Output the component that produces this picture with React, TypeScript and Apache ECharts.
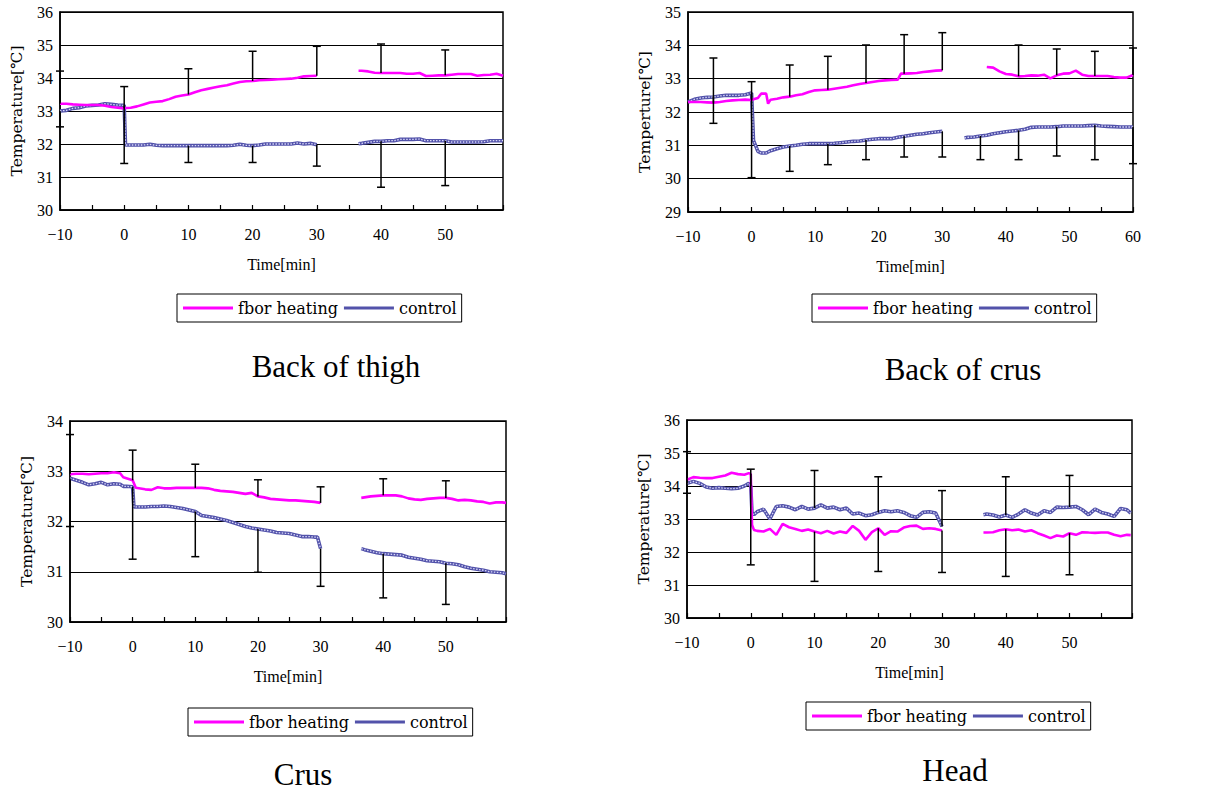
import React, { useEffect, useRef } from "react";
import * as echarts from "echarts";

// ---------- Back of thigh ----------
const thighTime = [-10, -9, -8, -7, -6, -5, -4, -3, -2, -1, 0, 0.2,
  1, 2, 3, 4, 5, 6, 7, 8, 9, 10, 11, 12, 13, 14, 15, 16, 17, 18, 19, 20,
  21, 22, 23, 24, 25, 26, 27, 28, 29, 30, 33, 36.5,
  37, 38, 39, 40, 41, 42, 43, 44, 45, 46, 47, 48, 49, 50, 51, 52, 53, 54, 55, 56, 57, 58, 59];
const thighHeat = [33.22, 33.22, 33.2, 33.19, 33.18, 33.18, 33.18, 33.16, 33.12, 33.1, 33.08, 33.09,
  33.1, 33.14, 33.2, 33.26, 33.28, 33.3, 33.36, 33.43, 33.47, 33.5,
  33.57, 33.63, 33.67, 33.71, 33.75, 33.78, 33.83, 33.88, 33.9, 33.91,
  33.93, 33.94, 33.95, 33.96, 33.97, 33.98, 34.01, 34.05, 34.06, 34.07, null, 34.22,
  34.22, 34.2, 34.16, 34.15, 34.15, 34.15, 34.15, 34.13, 34.13, 34.15, 34.06, 34.07, 34.08, 34.08,
  34.1, 34.12, 34.12, 34.12, 34.07, 34.09, 34.1, 34.13, 34.07];
const thighCtrl = [33.0, 33.02, 33.08, 33.1, 33.15, 33.17, 33.18, 33.22, 33.2, 33.18, 33.17, 31.97,
  31.97, 31.97, 31.97, 31.99, 31.96, 31.95, 31.95, 31.95, 31.95, 31.95,
  31.95, 31.95, 31.95, 31.95, 31.95, 31.95, 31.96, 31.99, 31.96, 31.95,
  31.97, 32.0, 32.0, 32.0, 32.0, 32.0, 32.03, 32.0, 32.02, 31.98, null, 32.01,
  32.02, 32.05, 32.08, 32.08, 32.1, 32.1, 32.14, 32.14, 32.14, 32.15, 32.1, 32.1, 32.1, 32.1,
  32.06, 32.06, 32.06, 32.06, 32.06, 32.07, 32.1, 32.1, 32.1];
const thighErrX = [-10, 0, 10, 20, 30, 40, 50];
const thighHeatTip = [34.21, 33.74, 34.28, 34.81, 34.96, 35.03, 34.85];
const thighCtrlTip = [32.52, 31.41, 31.44, 31.44, 31.33, 30.69, 30.74];

// ---------- Back of crus ----------
const backCrusTime = [-10, -9, -8, -7, -6, -5, -4, -3, -2, -1, 0, 0.3, 1, 1.5, 2.3, 2.6,
  3, 4, 5, 6, 7, 8, 9, 10, 11, 12, 13, 14, 15, 16, 17, 18, 19, 20, 21, 22, 23, 23.5,
  24, 25, 26, 27, 28, 29, 30, 32, 33.5,
  34, 35, 36, 37, 38, 39, 40, 41, 42, 43, 44, 45, 46, 47, 48, 49, 50, 51, 52, 53, 54, 55, 56, 57, 58, 59, 60];
const backCrusHeat = [32.3, 32.3, 32.3, 32.29, 32.28, 32.3, 32.33, 32.35, 32.36, 32.37,
  32.36, 32.38, 32.42, 32.55, 32.55, 32.25,
  32.37, 32.4, 32.44, 32.46, 32.5, 32.53, 32.6, 32.65, 32.66, 32.67, 32.7, 32.73, 32.76, 32.8, 32.84,
  32.87, 32.9, 32.93, 32.95, 32.96, 32.97, 33.15,
  33.15, 33.16, 33.17, 33.2, 33.22, 33.24, 33.25, null, null,
  null, null, null, 33.35, 33.33, 33.22, 33.14, 33.12, 33.07, 33.08, 33.1, 33.09, 33.12, 33.01,
  33.1, 33.15, 33.16, 33.24, 33.12, 33.08, 33.08, 33.08, 33.08, 33.05, 33.03, 33.03, 33.11];
const backCrusCtrl = [32.3, 32.38, 32.42, 32.44, 32.45, 32.48, 32.5, 32.5, 32.5, 32.52,
  32.57, 31.15, 30.82, 30.77, 30.77, 30.8,
  30.84, 30.9, 30.95, 30.98, 31.0, 31.03, 31.05, 31.05, 31.05, 31.05, 31.06, 31.08, 31.1, 31.12, 31.13,
  31.16, 31.18, 31.2, 31.2, 31.2, 31.24, 31.26,
  31.27, 31.3, 31.33, 31.35, 31.38, 31.4, 31.42, null, 31.22,
  31.24, 31.25, 31.28, 31.3, 31.35, 31.38, 31.41, 31.43, 31.45, 31.48, 31.54, 31.55, 31.55, 31.55,
  31.56, 31.58, 31.58, 31.58, 31.58, 31.59, 31.6, 31.58, 31.57, 31.56, 31.55, 31.55, 31.55];
const backCrusErrX = [-6, 0, 6, 12, 18, 24, 30, 36, 42, 48, 54, 60];
const backCrusHeatTip = [33.62, 32.91, 33.41, 33.67, 34.01, 34.32, 34.38, null, 34.01, 33.89, 33.82, 33.92];
const backCrusCtrlTip = [31.66, 30.03, 30.22, 30.42, 30.57, 30.65, 30.65, 30.57, 30.57, 30.68, 30.57, 30.45];

// ---------- Crus ----------
const crusTime = [-10, -9, -8, -7, -6, -5, -4, -3, -2, -1.5, -1, 0, 0.2, 0.5,
  1, 2, 3, 4, 5, 6, 7, 8, 9, 10, 11, 12, 13, 14, 15, 16, 17, 18, 19, 20,
  21, 22, 23, 24, 25, 26, 27, 28, 29, 29.5, 30, 33, 36.5,
  37, 38, 39, 40, 41, 42, 43, 44, 45, 46, 47, 48, 49, 50, 51, 52, 53, 54, 55, 56, 57, 58, 59, 59.6];
const crusHeat = [32.94, 32.95, 32.95, 32.94, 32.95, 32.96, 32.96, 32.98, 32.96, 32.88, 32.86,
  32.82, 32.76, 32.67,
  32.66, 32.64, 32.63, 32.68, 32.66, 32.66, 32.67, 32.67, 32.67, 32.67,
  32.67, 32.66, 32.63, 32.61, 32.6, 32.59, 32.57, 32.55, 32.57, 32.5,
  32.48, 32.45, 32.44, 32.43, 32.42, 32.42, 32.41, 32.4, 32.39, 32.38, 32.37, null, 32.47,
  32.48, 32.5, 32.51, 32.52, 32.52, 32.52, 32.5, 32.46, 32.44, 32.43,
  32.45, 32.46, 32.47, 32.47, 32.45, 32.42, 32.43, 32.42, 32.4, 32.39, 32.36, 32.38, 32.38, 32.37];
const crusCtrl = [32.86, 32.82, 32.78, 32.73, 32.75, 32.78, 32.73, 32.75, 32.74, 32.7, 32.7,
  32.69, 32.29, 32.29,
  32.29, 32.29, 32.3, 32.3, 32.31, 32.3, 32.28, 32.26, 32.23, 32.2,
  32.12, 32.1, 32.08, 32.05, 32.02, 31.98, 31.94, 31.9, 31.87, 31.85,
  31.83, 31.81, 31.78, 31.77, 31.76, 31.73, 31.7, 31.7, 31.69, 31.69, 31.46, null, 31.46,
  31.44, 31.41, 31.38, 31.36, 31.35, 31.34, 31.33, 31.29, 31.27, 31.25,
  31.22, 31.21, 31.2, 31.17, 31.16, 31.14, 31.1, 31.07, 31.05, 31.03, 31.0, 30.99, 30.98, 30.96];
const crusErrX = [-10, 0, 10, 20, 30, 40, 50];
const crusHeatTip = [33.73, 33.42, 33.14, 32.83, 32.69, 32.85, 32.81];
const crusCtrlTip = [31.9, 31.25, 31.3, 30.99, 30.71, 30.48, 30.35];

// ---------- Head ----------
const headTime = [-10, -9, -8, -7, -6, -5, -4, -3, -2, -1, -0.3, 0, 0.2, 0.5,
  1, 2, 3, 4, 5, 6, 7, 8, 9, 10, 11, 12, 13, 14, 15, 16, 17, 18, 19, 20,
  21, 22, 23, 24, 25, 26, 27, 28, 29, 30, 33, 36.5,
  37, 38, 39, 40, 41, 42, 43, 44, 45, 46, 47, 48, 49, 50, 51, 52, 53, 54, 55, 56, 57, 58, 59, 59.6];
const headHeat = [34.19, 34.27, 34.25, 34.24, 34.24, 34.28, 34.32, 34.4, 34.36, 34.34,
  34.39, 34.36, 32.82, 32.67,
  32.64, 32.62, 32.7, 32.52, 32.85, 32.75, 32.7, 32.64, 32.68, 32.62,
  32.57, 32.64, 32.56, 32.62, 32.58, 32.79, 32.64, 32.37, 32.6, 32.72,
  32.52, 32.63, 32.62, 32.74, 32.79, 32.8, 32.7, 32.72, 32.7, 32.65, null, 32.59,
  32.59, 32.6, 32.66, 32.69, 32.66, 32.68, 32.62, 32.66, 32.57, 32.5,
  32.42, 32.5, 32.47, 32.57, 32.52, 32.6, 32.59, 32.58, 32.59, 32.59, 32.52, 32.48, 32.52, 32.51];
const headCtrl = [34.08, 34.14, 34.08, 33.97, 33.93, 33.95, 33.93, 33.92, 33.93, 34.0,
  34.08, 34.0, 33.18, 33.13,
  33.22, 33.3, 33.0, 33.38, 33.4, 33.36, 33.28, 33.38, 33.3, 33.33,
  33.43, 33.33, 33.36, 33.28, 33.33, 33.15, 33.18, 33.1, 33.13, 33.2,
  33.25, 33.22, 33.25, 33.2, 33.1, 33.05, 33.2, 33.22, 33.18, 32.77, null, 33.13,
  33.15, 33.12, 33.06, 33.12, 33.05, 33.15, 33.28, 33.18, 33.12, 33.25,
  33.2, 33.36, 33.35, 33.36, 33.38, 33.28, 33.13, 33.3, 33.2, 33.15, 33.08, 33.32, 33.28, 33.18];
const headErrX = [-10, 0, 10, 20, 30, 40, 50];
const headHeatTip = [33.78, 31.61, 31.11, 31.41, 31.38, 31.26, 31.31];
const headCtrlTip = [35.04, 34.51, 34.47, 34.28, 33.86, 34.28, 34.32];

const legendNames = ["fbor heating", "control"];
const FONT = "Liberation Serif";
const WIDE_SERIF = "DejaVu Serif";

const panels = [
  { time: thighTime, heat: thighHeat, ctrl: thighCtrl, errX: thighErrX, heatTip: thighHeatTip, ctrlTip: thighCtrlTip,
    yMin: 30, yMax: 36, xMax: 59, yName: "Temperature[\u2103]", title: "Back of thigh",
    grid: { left: 60, top: 12, width: 443, height: 198 }, legend: { left: 177, top: 294 }, tx: 336, ty: 366 },
  { time: backCrusTime, heat: backCrusHeat, ctrl: backCrusCtrl, errX: backCrusErrX, heatTip: backCrusHeatTip, ctrlTip: backCrusCtrlTip,
    yMin: 29, yMax: 35, xMax: 60, yName: "Temperture[\u2103]", title: "Back of crus",
    grid: { left: 688, top: 12, width: 445, height: 200 }, legend: { left: 812, top: 294 }, tx: 963, ty: 369 },
  { time: crusTime, heat: crusHeat, ctrl: crusCtrl, errX: crusErrX, heatTip: crusHeatTip, ctrlTip: crusCtrlTip,
    yMin: 30, yMax: 34, xMax: 59.6, yName: "Temperature[\u2103]", title: "Crus",
    grid: { left: 70, top: 421, width: 436, height: 201 }, legend: { left: 188, top: 708 }, tx: 303, ty: 774 },
  { time: headTime, heat: headHeat, ctrl: headCtrl, errX: headErrX, heatTip: headHeatTip, ctrlTip: headCtrlTip,
    yMin: 30, yMax: 36, xMax: 59.8, yName: "Temperature[\u2103]", title: "Head",
    grid: { left: 687, top: 420, width: 445, height: 198 }, legend: { left: 806, top: 702 }, tx: 955, ty: 770 },
];

function pairs(t: number[], v: (number | null)[]) {
  return t.map((x, i) => [x, v[i] == null ? "-" : v[i]]);
}
function valueAt(t: number[], v: (number | null)[], x: number) {
  let best = -1;
  let bd = Infinity;
  t.forEach((tt, i) => {
    const d = Math.abs(tt - x);
    if (d < bd) { bd = d; best = i; }
  });
  return best >= 0 ? v[best] : null;
}

function buildOption() {
  const grid: any[] = [];
  const xAxis: any[] = [];
  const yAxis: any[] = [];
  const series: any[] = [];
  const legend: any[] = [];
  const graphic: any[] = [];
  panels.forEach((p, i) => {
    grid.push({ ...p.grid, show: true, borderColor: "#000", borderWidth: 1.5, backgroundColor: "#fff" });
    xAxis.push({
      type: "value", gridIndex: i, min: -10, max: p.xMax, interval: 5,
      name: "Time[min]", nameLocation: "middle", nameGap: 46,
      nameTextStyle: { fontFamily: FONT, fontSize: 16, color: "#000" },
      axisLine: { show: true, onZero: false, lineStyle: { color: "#000", width: 1.5 } },
      axisTick: { show: true, inside: true, length: 5, lineStyle: { color: "#000", width: 1.2 } },
      axisLabel: {
        fontFamily: FONT, fontSize: 16, color: "#000", margin: 16,
        formatter: (v: number) => (Math.abs(v % 10) < 1e-9 ? (v < 0 ? "\u2212" + Math.abs(v) : String(v)) : ""),
      },
      splitLine: { show: false },
    });
    yAxis.push({
      type: "value", gridIndex: i, min: p.yMin, max: p.yMax, interval: 1,
      name: p.yName, nameLocation: "middle", nameGap: 35, nameRotate: 90,
      nameTextStyle: { fontFamily: WIDE_SERIF, fontSize: 15.5, color: "#000" },
      axisLine: { show: true, onZero: false, lineStyle: { color: "#000", width: 1.5 } },
      axisTick: { show: false },
      axisLabel: { fontFamily: FONT, fontSize: 16, color: "#000", margin: 7 },
      splitLine: { show: true, lineStyle: { color: "#000", width: 1 } },
    });
    series.push({
      type: "line", name: legendNames[1], xAxisIndex: i, yAxisIndex: i,
      data: pairs(p.time, p.ctrl), symbol: "none", showSymbol: false, connectNulls: false,
      lineStyle: { color: "#5252aa", width: 3.6 }, itemStyle: { color: "#5252aa" }, z: 3,
    });
    series.push({
      type: "line", name: "control-texture", xAxisIndex: i, yAxisIndex: i,
      data: pairs(p.time, p.ctrl), symbol: "none", showSymbol: false, connectNulls: false,
      lineStyle: { color: "#d8d8f8", width: 1.3, type: [1.5, 1.5] }, z: 4, silent: true,
    });
    series.push({
      type: "line", name: legendNames[0], xAxisIndex: i, yAxisIndex: i,
      data: pairs(p.time, p.heat), symbol: "none", showSymbol: false, connectNulls: false,
      lineStyle: { color: "#ff00ff", width: 2.6 }, itemStyle: { color: "#ff00ff" }, z: 5,
    });
    const errData: any[] = [];
    p.errX.forEach((x, k) => {
      const h = valueAt(p.time, p.heat, x);
      if (h != null && p.heatTip[k] != null) errData.push([x, h, p.heatTip[k]]);
      const c = valueAt(p.time, p.ctrl, x);
      if (c != null && p.ctrlTip[k] != null) errData.push([x, c, p.ctrlTip[k]]);
    });
    series.push({
      type: "custom", name: "err" + i, xAxisIndex: i, yAxisIndex: i, data: errData, clip: false, z: 6, silent: true,
      encode: { x: 0, y: [1, 2] },
      renderItem: (params: any, api: any) => {
        const x = api.value(0);
        const a = api.coord([x, api.value(1)]);
        const b = api.coord([x, api.value(2)]);
        return {
          type: "group",
          children: [
            { type: "line", shape: { x1: a[0], y1: a[1], x2: b[0], y2: b[1] }, style: { stroke: "#000", lineWidth: 1.5 } },
            { type: "line", shape: { x1: b[0] - 4, y1: b[1], x2: b[0] + 4, y2: b[1] }, style: { stroke: "#000", lineWidth: 1.5 } },
          ],
        };
      },
    });
    legend.push({
      left: p.legend.left, top: p.legend.top, orient: "horizontal", selectedMode: false,
      borderColor: "#000", borderWidth: 1, padding: [4, 5, 4, 6], itemGap: 6, itemWidth: 50, itemHeight: 3,
      icon: "rect",
      textStyle: { fontFamily: WIDE_SERIF, fontSize: 16, color: "#000", lineHeight: 20 },
      data: legendNames,
    });
    graphic.push({
      type: "text", x: p.tx, y: p.ty,
      style: { text: p.title, fontFamily: FONT, fontSize: 31, fill: "#000", align: "center", verticalAlign: "middle", textAlign: "center", textVerticalAlign: "middle" },
    });
  });
  return { animation: false, backgroundColor: "#fff", grid, xAxis, yAxis, series, legend, graphic };
}

export default function App() {
  const ref = useRef<HTMLDivElement>(null);
  useEffect(() => {
    if (!ref.current) return;
    const chart = echarts.init(ref.current, undefined, { renderer: "svg" });
    chart.setOption(buildOption() as any);
    return () => chart.dispose();
  }, []);
  return <div ref={ref} style={{ position: "absolute", left: 0, top: 0, width: 1219, height: 792 }} />;
}
